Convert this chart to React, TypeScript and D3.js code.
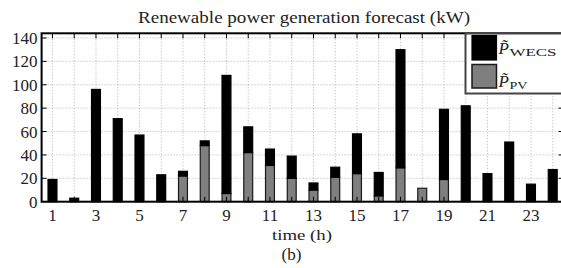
import React from "react";
import * as d3 from "d3";

const hours = d3.range(1, 25);
const pvValues = [0, 0, 0, 0, 0, 0, 22, 48, 7, 42, 31, 20, 10, 21, 24, 5, 29, 11.5, 19, 0, 0, 0, 0, 0];
const wecsValues = [19, 3, 96, 71, 57, 23, 4, 4, 101, 22, 14, 19, 6, 8.5, 34, 20, 101, 0, 60, 82, 24, 51, 15, 27.5];
const yTicks = [0, 20, 40, 60, 80, 100, 120, 140];
const xLabelTicks = [1, 3, 5, 7, 9, 11, 13, 15, 17, 19, 21, 23];

const W = 561;
const H = 268;
const FONT = "'Liberation Serif', 'DejaVu Serif', serif";

export default function App() {
  const x = d3.scaleLinear().domain([0.5, 24.5]).range([41.6, 563.6]);
  const y = d3.scaleLinear().domain([0, 144]).range([201.7, 33.3]);
  const bw = (x(1) - x(0)) * 0.41;
  const [x0, x1] = x.range();
  const [yb, yt] = y.range();

  return (
    <svg width={W} height={H} style={{ position: "absolute", left: 0, top: 0, background: "#fff" }} fontFamily={FONT}>
      <rect x={0} y={0} width={W} height={H} fill="#fff" />
      {/* grid */}
      <g stroke="#b0b0b0" strokeWidth={1} strokeDasharray="1,2">
        {hours.map((h) => (
          <line key={"v" + h} x1={x(h)} x2={x(h)} y1={yt} y2={yb} />
        ))}
        {yTicks.filter((t) => t > 0).map((t) => (
          <line key={"h" + t} x1={x0} x2={x1} y1={y(t)} y2={y(t)} />
        ))}
      </g>
      {/* bars */}
      <g>
        {hours.map((h, i) => {
          const pv = pvValues[i];
          const wecs = wecsValues[i];
          return (
            <g key={"b" + h}>
              {pv > 0 && (
                <rect x={x(h) - bw / 2} y={y(pv)} width={bw} height={y(0) - y(pv)} fill="#7f7f7f" stroke="#1a1a1a" strokeWidth={1.2} />
              )}
              {wecs > 0 && (
                <rect x={x(h) - bw / 2} y={y(pv + wecs)} width={bw} height={y(pv) - y(pv + wecs)} fill="#000" stroke="#000" strokeWidth={1.2} />
              )}
            </g>
          );
        })}
      </g>
      {/* ticks */}
      <g stroke="#000" strokeWidth={1}>
        {hours.map((h) => (
          <g key={"t" + h}>
            <line x1={x(h)} x2={x(h)} y1={yb} y2={yb - 5} />
            <line x1={x(h)} x2={x(h)} y1={yt} y2={yt + 5} />
          </g>
        ))}
        {yTicks.map((t) => (
          <g key={"yt" + t}>
            <line x1={x0} x2={x0 + 5} y1={y(t)} y2={y(t)} />
            <line x1={x1} x2={x1 - 5} y1={y(t)} y2={y(t)} />
          </g>
        ))}
      </g>
      {/* frame */}
      <rect x={x0} y={yt} width={x1 - x0} height={yb - yt} fill="none" stroke="#000" strokeWidth={2} />
      {/* tick labels */}
      <g fontSize={17} fill="#222">
        {yTicks.map((t) => (
          <text key={"yl" + t} x={x0 - 4} y={y(t) + 6} textAnchor="end">{t}</text>
        ))}
        {xLabelTicks.map((h) => (
          <text key={"xl" + h} x={x(h)} y={221} textAnchor="middle">{h}</text>
        ))}
      </g>
      <text x={272} y={240} fontSize={15} fill="#222" textLength={60} lengthAdjust="spacingAndGlyphs">time (h)</text>
      <text x={291.5} y={260} textAnchor="middle" fontSize={17} fill="#222">(b)</text>
      <text x={138} y={23} fontSize={17} fill="#222" textLength={332} lengthAdjust="spacingAndGlyphs">Renewable power generation forecast (kW)</text>
      {/* legend */}
      <g>
        <rect x={465.5} y={33.5} width={110} height={60} fill="#fff" stroke="#444" strokeWidth={2} />
        <rect x={472} y={35.5} width={24.5} height={24.5} fill="#000" stroke="#000" strokeWidth={1.2} />
        <rect x={472} y={64.5} width={24.5} height={23.5} fill="#7f7f7f" stroke="#1a1a1a" strokeWidth={1.5} />
        <text x={498.5} y={54} fontSize={17} fill="#222" fontStyle="italic">{"P\u0303"}</text>
        <text x={509.5} y={56} fontSize={11} fill="#222" textLength={47} lengthAdjust="spacingAndGlyphs">WECS</text>
        <text x={498.5} y={87} fontSize={17} fill="#222" fontStyle="italic">{"P\u0303"}</text>
        <text x={509.5} y={89} fontSize={11} fill="#222" textLength={18} lengthAdjust="spacingAndGlyphs">PV</text>
      </g>
    </svg>
  );
}
